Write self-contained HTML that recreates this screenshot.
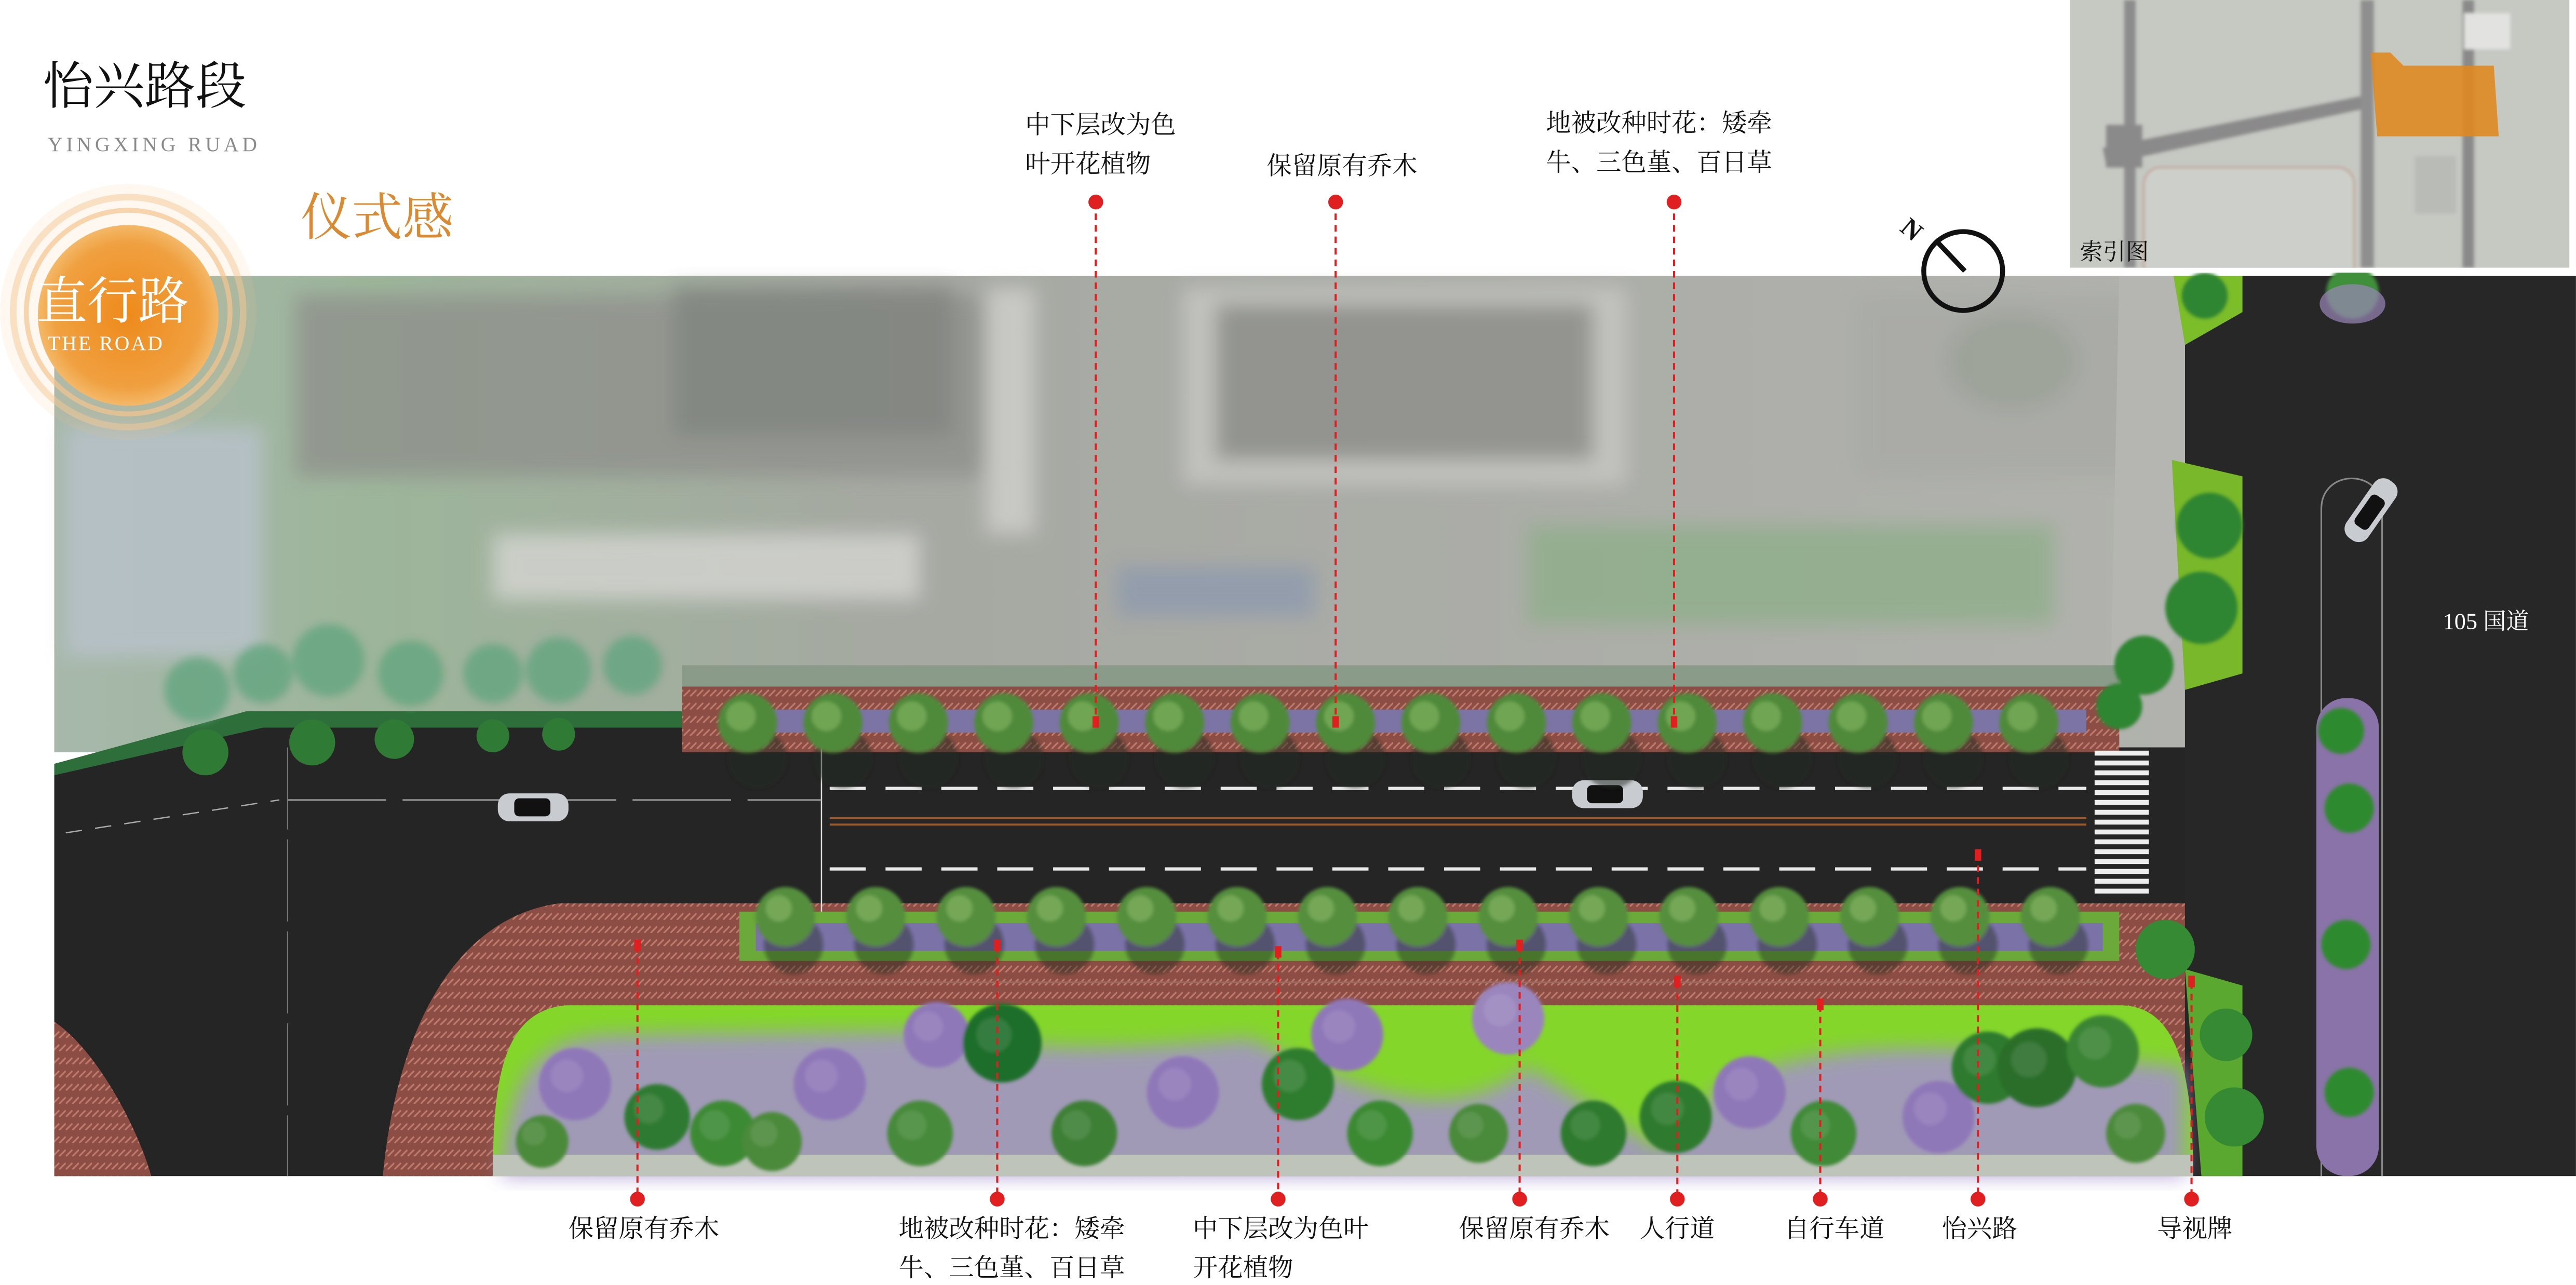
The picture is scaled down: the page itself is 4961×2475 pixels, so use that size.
<!DOCTYPE html>
<html><head><meta charset="utf-8"><style>
html,body{margin:0;padding:0;background:#fff;}
svg{display:block;}
text{font-family:"Liberation Serif","Noto Serif CJK SC","Noto Sans CJK SC",serif;}
</style></head><body>
<svg width="4961" height="2475" viewBox="0 0 1568 782.3" xmlns="http://www.w3.org/2000/svg">
<defs>
<filter id="b6"><feGaussianBlur stdDeviation="6"/></filter>
<filter id="b3"><feGaussianBlur stdDeviation="2.5"/></filter>
<filter id="b1"><feGaussianBlur stdDeviation="1"/></filter>
<clipPath id="idx"><rect x="1260" y="0" width="308" height="163"/></clipPath>
<pattern id="brick" width="8" height="8" patternUnits="userSpaceOnUse">
<rect width="8" height="8" fill="#8c4e44"/>
<path d="M0 8 L4 4 M4 8 L8 4" stroke="#c07a6c" stroke-width="1"/>
</pattern>
<radialGradient id="org" cx="0.5" cy="0.5" r="0.5">
<stop offset="0" stop-color="#ee8a1c"/><stop offset="0.8" stop-color="#f0a040"/><stop offset="1" stop-color="#f4b868"/>
</radialGradient>
<linearGradient id="sat" x1="0" x2="1" y1="0" y2="0">
<stop offset="0" stop-color="#a7b8ab"/><stop offset="0.15" stop-color="#9db59a"/><stop offset="0.4" stop-color="#a6a8a2"/><stop offset="1" stop-color="#b1b2ad"/>
</linearGradient>
</defs>

<rect x="33" y="168" width="1300" height="290" fill="url(#sat)"/>
<g filter="url(#b6)" opacity="0.8">
<rect x="180" y="180" width="430" height="110" fill="#8f918c"/>
<rect x="410" y="175" width="170" height="90" fill="#7d807b"/>
<rect x="720" y="175" width="270" height="120" fill="#c8c8c4"/>
<rect x="740" y="185" width="230" height="95" fill="#8e8f8a"/>
<rect x="300" y="325" width="260" height="40" fill="#d5d5d2"/>
<rect x="680" y="345" width="120" height="30" fill="#8d9aae"/>
<rect x="1130" y="180" width="180" height="110" fill="#a9aaa6"/>
<ellipse cx="1225" cy="220" rx="40" ry="30" fill="#9aa196"/>
<rect x="930" y="320" width="320" height="60" fill="#8fae8a"/>
<rect x="40" y="260" width="120" height="140" fill="#b9c2cc"/>
<rect x="600" y="175" width="30" height="150" fill="#d0d0cc"/>
</g>

<path d="M33 458 L33 716 L300 716 L300 700 C280 620 300 560 330 555 L1335 555 L1335 455 L415 455 L415 440 L150 440 L33 465 Z" fill="#252525"/>
<path d="M33 622 C60 640 85 690 92 716 L33 716 Z" fill="url(#brick)"/>
<path d="M233 716 C240 640 270 560 340 550 L1335 550 L1335 716 Z" fill="url(#brick)"/>
<rect x="1330" y="168" width="238" height="548" fill="#272727"/>
<path d="M1290 168 L1330 168 L1330 370 C1325 395 1310 405 1285 405 L1290 168Z" fill="#b5b6b2"/>

<path d="M1413 716 L1413 310 C1413 285 1450 285 1450 310 L1450 716" fill="none" stroke="#888" stroke-width="1"/>
<rect x="1410" y="425" width="38" height="291" rx="18" fill="#8a73a8"/>
<g fill="#2f8a2f" filter="url(#b1)">
<circle cx="1425" cy="445" r="14"/><circle cx="1430" cy="492" r="15"/><circle cx="1428" cy="575" r="15"/><circle cx="1430" cy="665" r="15"/>
<circle cx="1432" cy="178" r="16" fill="#3f8f3a"/>
</g>
<ellipse cx="1432" cy="185" rx="20" ry="12" fill="#9a86b8" opacity="0.7"/>

<rect x="415" y="405" width="875" height="20" fill="#8b9b8a"/>
<rect x="415" y="418" width="875" height="40" fill="url(#brick)"/>
<rect x="440" y="432" width="830" height="14" fill="#7d74a6"/>
<path d="M33 465 L150 433 L415 433 L415 443 L160 443 L33 472 Z" fill="#2e6e3a"/>
<g fill="#5fa47d" opacity="0.75" filter="url(#b3)">
<circle cx="120" cy="420" r="20"/><circle cx="160" cy="410" r="18"/><circle cx="200" cy="402" r="22"/><circle cx="250" cy="410" r="20"/><circle cx="300" cy="410" r="18"/><circle cx="340" cy="408" r="20"/><circle cx="385" cy="405" r="18"/>
</g>
<g fill="#2f7a34"><circle cx="125" cy="458" r="14"/><circle cx="190" cy="452" r="14"/><circle cx="240" cy="450" r="12"/><circle cx="300" cy="448" r="10"/><circle cx="340" cy="447" r="10"/></g>

<line x1="500" y1="455" x2="500" y2="555" stroke="#ddd" stroke-width="0.8"/>
<g stroke="#e8e8e8" stroke-width="2" stroke-dasharray="22,12">
<line x1="505" y1="480" x2="1270" y2="480"/><line x1="505" y1="529" x2="1270" y2="529"/>
</g>
<line x1="505" y1="498" x2="1270" y2="498" stroke="#a0592a" stroke-width="1.2"/>
<line x1="505" y1="502" x2="1270" y2="502" stroke="#a0592a" stroke-width="1.2"/>
<line x1="40" y1="507" x2="170" y2="487" stroke="#aaa" stroke-width="0.8" stroke-dasharray="10,8"/>
<line x1="175" y1="487" x2="500" y2="487" stroke="#aaa" stroke-width="0.8" stroke-dasharray="60,10"/>
<line x1="175" y1="455" x2="175" y2="716" stroke="#777" stroke-width="0.6" stroke-dasharray="50,6"/>
<g fill="#eee" id="zb"></g>

<g><rect x="303" y="483" width="43" height="17" rx="7" fill="#c8cbcf"/><rect x="313" y="486" width="22" height="11" rx="3" fill="#111"/></g>
<g><rect x="957" y="475" width="43" height="17" rx="7" fill="#c8cbcf"/><rect x="966" y="478" width="22" height="11" rx="3" fill="#111"/></g>
<g transform="rotate(-55 1443 311)"><rect x="1422" y="303" width="43" height="16" rx="7" fill="#c8cbcf"/><rect x="1431" y="306" width="22" height="10" rx="3" fill="#111"/></g>

<rect x="450" y="555" width="840" height="30" fill="#6aa93a"/>
<rect x="460" y="562" width="820" height="17" fill="#7b72a8"/>
<line x1="470" y1="598" x2="1280" y2="598" stroke="#9a6a60" stroke-width="1"/>

<path d="M300 716 C300 660 305 615 345 612 L1290 612 C1320 612 1335 640 1335 716 Z" fill="#84d62a"/>
<g filter="url(#b6)" opacity="0.85">
<path d="M305 716 C310 650 330 630 380 630 L560 628 C620 640 680 640 760 632 C820 660 880 690 930 650 L1010 700 L1050 660 C1120 630 1180 640 1240 640 L1330 650 L1330 716 Z" fill="#a590cf"/>
</g>
<rect x="300" y="703" width="1035" height="13" fill="#bfc4bb"/>
<g id="gtrees" filter="url(#b1)"></g>

<path d="M1323 168 L1365 168 L1365 190 L1330 210 Z" fill="#7cbd2a"/>
<path d="M1322 280 L1365 290 L1365 410 L1330 420 Z" fill="#79b82a"/>
<g fill="#2f8530" filter="url(#b1)">
<circle cx="1342" cy="180" r="14"/><circle cx="1345" cy="320" r="20"/><circle cx="1340" cy="370" r="22"/><circle cx="1305" cy="405" r="18"/><circle cx="1290" cy="430" r="14"/>
</g>
<path d="M1330 590 L1365 600 L1365 716 L1340 716 Z" fill="#5aa830"/>
<g fill="#358a33"><circle cx="1318" cy="578" r="18"/><circle cx="1355" cy="630" r="16"/><circle cx="1360" cy="680" r="18"/></g>

<g id="rowtrees" filter="url(#b1)"></g>

<!-- index map -->
<rect x="1259" y="0" width="309" height="166" fill="#fff"/>
<g clip-path="url(#idx)">
<rect x="1260" y="0" width="308" height="163" fill="#c5c9c2"/>
<g filter="url(#b1)">
<rect x="1293" y="0" width="7" height="163" fill="#8c8c8c"/>
<path d="M1280 90 L1440 58 L1440 66 L1282 100 Z" fill="#8a8a8a"/>
<rect x="1282" y="76" width="22" height="26" fill="#8a8a8a"/>
<rect x="1437" y="0" width="8" height="163" fill="#8f8f8f"/>
<rect x="1499" y="0" width="7" height="163" fill="#8a8a8a"/>
<rect x="1305" y="102" width="128" height="90" rx="10" fill="#cdd0ca" stroke="#c09a8e"/>
<rect x="1500" y="8" width="28" height="22" fill="#e2e2e0"/>
<rect x="1470" y="95" width="25" height="35" fill="#b9bcb6"/>
</g>
<path d="M1443 32 L1455 32 L1463 40 L1518 40 L1521 83 L1447 83 Z" fill="#e0881c" opacity="0.88"/>
</g>
<rect x="1564" y="0" width="4" height="166" fill="#fff"/>
<text x="1266" y="158" font-size="14" fill="#111">索引图</text>

<circle cx="1195" cy="165" r="24" fill="none" stroke="#111" stroke-width="3"/>
<line x1="1178" y1="146" x2="1196" y2="165" stroke="#111" stroke-width="3"/>
<text x="1158" y="146" font-size="16" font-family="Liberation Sans,sans-serif" font-weight="bold" fill="#111" transform="rotate(40 1165 140)">N</text>

<text x="26" y="63" font-size="31" fill="#111">怡兴路段</text>
<text x="29" y="92" font-size="12.5" fill="#8a8a8a" font-family="Liberation Sans,sans-serif" letter-spacing="2.2">YINGXING RUAD</text>
<text x="183" y="143" font-size="31" fill="#d98a32" font-family="Liberation Sans,'Noto Sans CJK SC',sans-serif">仪式感</text>
<g>
<circle cx="78" cy="190" r="78" fill="#f7c48c" opacity="0.12"/>
<circle cx="78" cy="190" r="70" fill="none" stroke="#f5c894" stroke-width="4" opacity="0.5"/>
<circle cx="78" cy="190" r="62" fill="none" stroke="#f3c48e" stroke-width="3" opacity="0.7"/>
<circle cx="78" cy="192" r="55" fill="url(#org)"/>
</g>
<text x="22" y="194" font-size="31" fill="#fff" font-family="Liberation Sans,'Noto Sans CJK SC',sans-serif">直行路</text>
<text x="29" y="213" font-size="12.5" fill="#fff" font-family="Liberation Sans,sans-serif" letter-spacing="1">THE ROAD</text>

<text x="1487" y="383" font-size="14" fill="#fff">105 国道</text>

<g stroke="#e02020" stroke-width="1.3" stroke-dasharray="4,3">
<line x1="667" y1="123" x2="667" y2="440"/><line x1="813" y1="123" x2="813" y2="440"/><line x1="1019" y1="123" x2="1019" y2="440"/>
<line x1="388" y1="576" x2="388" y2="730"/><line x1="607" y1="576" x2="607" y2="730"/><line x1="778" y1="580" x2="778" y2="730"/>
<line x1="925" y1="576" x2="925" y2="730"/><line x1="1021" y1="598" x2="1021" y2="730"/><line x1="1108" y1="612" x2="1108" y2="730"/>
<line x1="1204" y1="520" x2="1204" y2="730"/><line x1="1334" y1="598" x2="1334" y2="730"/>
</g>
<g fill="#e02020">
<circle cx="667" cy="123" r="4.5"/><circle cx="813" cy="123" r="4.5"/><circle cx="1019" cy="123" r="4.5"/>
<circle cx="388" cy="730" r="4.5"/><circle cx="607" cy="730" r="4.5"/><circle cx="778" cy="730" r="4.5"/><circle cx="925" cy="730" r="4.5"/>
<circle cx="1021" cy="730" r="4.5"/><circle cx="1108" cy="730" r="4.5"/><circle cx="1204" cy="730" r="4.5"/><circle cx="1334" cy="730" r="4.5"/>
<rect x="665" y="436" width="4" height="7"/><rect x="811" y="436" width="4" height="7"/><rect x="1017" y="436" width="4" height="7"/>
<rect x="386" y="572" width="4" height="7"/><rect x="605" y="572" width="4" height="7"/><rect x="776" y="576" width="4" height="7"/><rect x="923" y="572" width="4" height="7"/>
<rect x="1019" y="594" width="4" height="7"/><rect x="1106" y="608" width="4" height="7"/><rect x="1202" y="517" width="4" height="7"/><rect x="1332" y="594" width="4" height="7"/>
</g>
<g font-size="15.3" fill="#111">
<text x="624" y="81">中下层改为色</text><text x="624" y="105">叶开花植物</text>
<text x="771" y="106">保留原有乔木</text>
<text x="941" y="80">地被改种时花：矮牵</text><text x="941" y="104">牛、三色堇、百日草</text>
<text x="346" y="753">保留原有乔木</text>
<text x="547" y="753">地被改种时花：矮牵</text><text x="547" y="777">牛、三色堇、百日草</text>
<text x="726" y="753">中下层改为色叶</text><text x="726" y="777">开花植物</text>
<text x="888" y="753">保留原有乔木</text>
<text x="998" y="753">人行道</text>
<text x="1086" y="753">自行车道</text>
<text x="1182" y="753">怡兴路</text>
<text x="1313" y="753">导视牌</text>
</g>
<script>
var NS="http://www.w3.org/2000/svg";
function c(p,x,y,r,f,o){var e=document.createElementNS(NS,"circle");e.setAttribute("cx",x);e.setAttribute("cy",y);e.setAttribute("r",r);e.setAttribute("fill",f);if(o)e.setAttribute("opacity",o);p.appendChild(e);}
var rt=document.getElementById("rowtrees");
for(var x=455;x<=1270;x+=52){c(rt,x+6,462,18,"#1e2a1e",0.5);c(rt,x,440,18,"#4f8a3a");c(rt,x-4,436,9,"#8fbf6a",0.5);}
for(var x=478;x<=1250;x+=55){c(rt,x+5,575,18,"#1e2a1e",0.4);c(rt,x,558,18,"#558f3e");c(rt,x-4,553,8,"#95c070",0.5);}
var zb=document.getElementById("zb");
for(var y=457;y<545;y+=6){var r=document.createElementNS(NS,"rect");r.setAttribute("x",1275);r.setAttribute("y",y);r.setAttribute("width",33);r.setAttribute("height",3);zb.appendChild(r);}
var g=document.getElementById("gtrees");
var T=[[350,660,22,"#8f78b8"],[400,680,20,"#2f7a30"],[440,690,20,"#3d8a35"],[505,660,22,"#8f78b8"],[570,630,20,"#8f78b8"],[610,635,24,"#1f6e2a"],[560,690,20,"#468a3a"],[660,690,20,"#3d7f35"],[720,665,22,"#8f78b8"],[790,660,22,"#2f7d2f"],[820,630,22,"#8f78b8"],[840,690,20,"#3b8a33"],[918,620,22,"#9a85bd"],[900,690,18,"#4a8a3a"],[970,690,20,"#2e7a2e"],[1020,680,22,"#2d7a2d"],[1065,665,22,"#8f78b8"],[1110,690,20,"#3f8a38"],[1180,680,22,"#8f78b8"],[1210,650,22,"#2d7a2d"],[1240,650,24,"#2a6e2a"],[1280,640,22,"#3b8434"],[1300,690,18,"#4b8a3b"],[330,695,16,"#4b8a3b"],[470,695,18,"#4b8a3b"]];
T.forEach(function(t){c(g,t[0],t[1],t[2],t[3]);c(g,t[0]-5,t[1]-5,t[2]*0.45,"#ffffff",0.1);});
</script>
</svg>
</body></html>
